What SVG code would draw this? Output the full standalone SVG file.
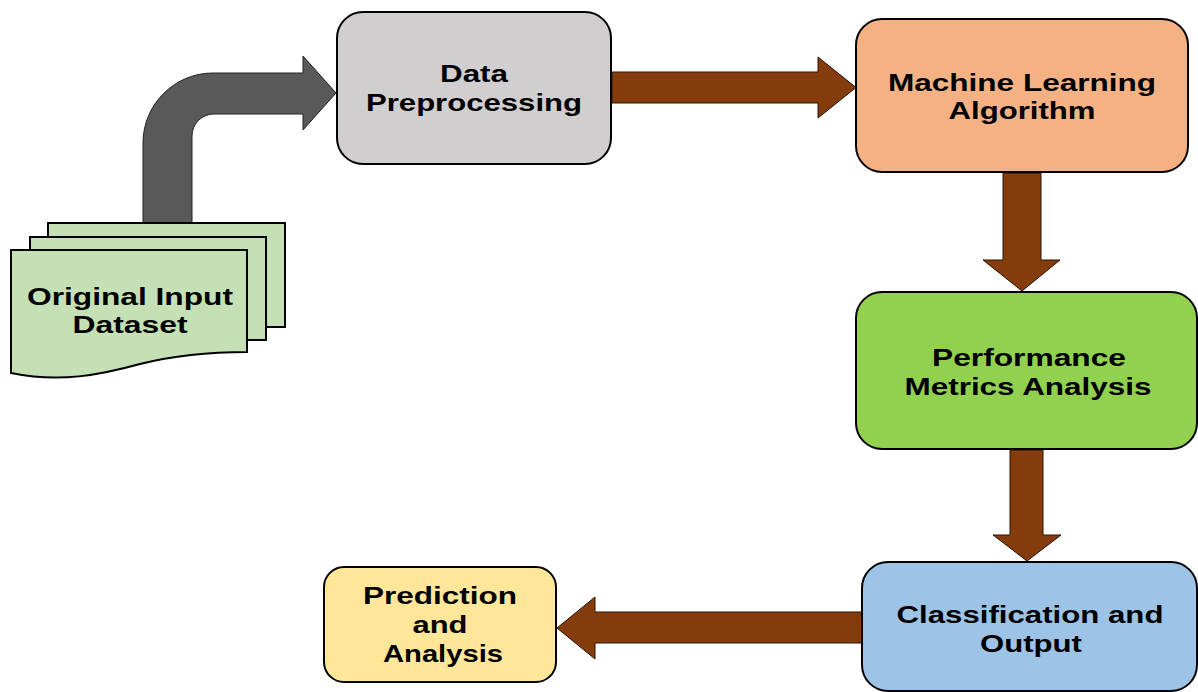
<svg xmlns="http://www.w3.org/2000/svg" width="1198" height="692" viewBox="0 0 1198 692">
<style>
.box{stroke:#000;stroke-width:2}
.arr{fill:#843c0c;stroke:#2a1204;stroke-width:1}
.doc{fill:#c5e0b4;stroke:#000;stroke-width:2}
text{font-family:"Liberation Sans",Arial,sans-serif;font-weight:bold;font-size:24px;fill:#000;text-anchor:middle}
</style>
<rect width="1198" height="692" fill="#fff"/>
<g id="connectors">
<path d="M143,224 L143,143 A70,70 0 0 1 213,73 L303,73 L303,56 L336,93 L303,130 L303,114 L214,114 A22,22 0 0 0 192,136 L192,224 Z" fill="#595959" stroke="#222" stroke-width="1"/>
<path class="arr" d="M612,72 L818,72 L818,57 L856,87.5 L818,118 L818,103 L612,103 Z"/>
<path class="arr" d="M1003,173 L1041,173 L1041,260 L1060,260 L1022,291 L983,260 L1003,260 Z"/>
<path class="arr" d="M1010,450 L1043,450 L1043,535 L1061,535 L1027,561 L993,535 L1010,535 Z"/>
<path class="arr" d="M862,612 L595,612 L595,597 L557,628 L595,659 L595,643 L862,643 Z"/>
</g>
<g id="dataset">
<rect class="doc" x="48" y="223" width="237" height="104"/>
<rect class="doc" x="30" y="237" width="236" height="103"/>
<path class="doc" d="M11,250 L247,250 L247,352 C215,352 180,354 140,364 C100,375 60,383 11,373 Z"/>
<text x="130" y="305" textLength="206" lengthAdjust="spacingAndGlyphs">Original Input</text>
<text x="130" y="333" textLength="115" lengthAdjust="spacingAndGlyphs">Dataset</text>
</g>
<g id="preprocessing">
<rect class="box" x="337" y="12" width="274" height="152" rx="26" fill="#d0cece"/>
<text x="474" y="82" textLength="68" lengthAdjust="spacingAndGlyphs">Data</text>
<text x="474" y="111" textLength="216" lengthAdjust="spacingAndGlyphs">Preprocessing</text>
</g>
<g id="ml">
<rect class="box" x="856" y="19" width="332" height="153" rx="26" fill="#f4b183"/>
<text x="1022" y="91" textLength="268" lengthAdjust="spacingAndGlyphs">Machine Learning</text>
<text x="1022" y="119" textLength="147" lengthAdjust="spacingAndGlyphs">Algorithm</text>
</g>
<g id="performance">
<rect class="box" x="856" y="292" width="341" height="157" rx="26" fill="#92d050"/>
<text x="1029" y="366" textLength="194" lengthAdjust="spacingAndGlyphs">Performance</text>
<text x="1028" y="395" textLength="247" lengthAdjust="spacingAndGlyphs">Metrics Analysis</text>
</g>
<g id="classification">
<rect class="box" x="862" y="562" width="335" height="129" rx="26" fill="#9dc3e6"/>
<text x="1030" y="623" textLength="267" lengthAdjust="spacingAndGlyphs">Classification and</text>
<text x="1031" y="652" textLength="102" lengthAdjust="spacingAndGlyphs">Output</text>
</g>
<g id="prediction">
<rect class="box" x="324" y="567" width="232" height="115" rx="20" fill="#ffe699"/>
<text x="440" y="604" textLength="154" lengthAdjust="spacingAndGlyphs">Prediction</text>
<text x="440" y="633" textLength="55" lengthAdjust="spacingAndGlyphs">and</text>
<text x="443" y="662" textLength="120" lengthAdjust="spacingAndGlyphs">Analysis</text>
</g>
</svg>
